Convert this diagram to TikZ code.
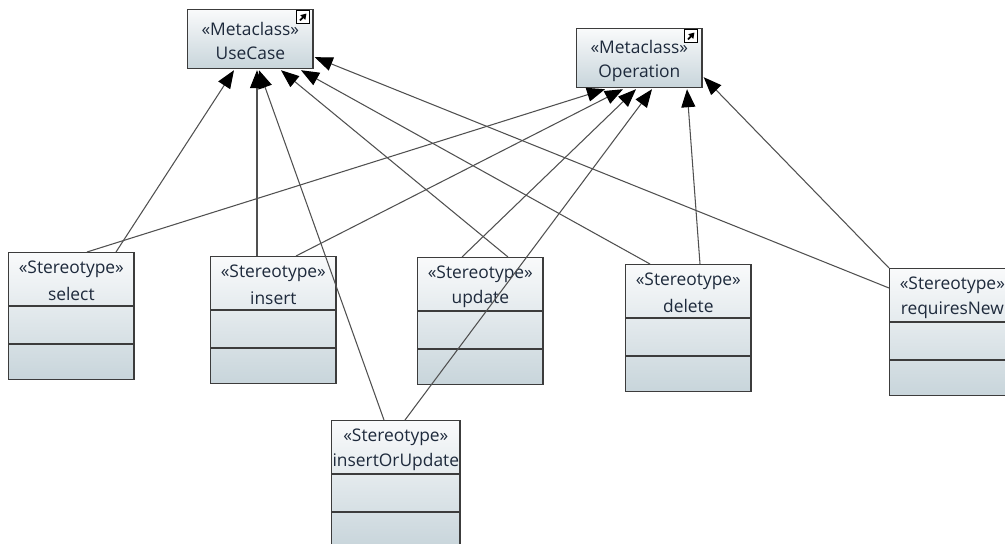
\documentclass[tikz,border=0pt]{standalone}
\usepackage{fontspec}
\setmainfont{Open Sans}
\usetikzlibrary{positioning,arrows.meta,calc}

\definecolor{boxtop}{HTML}{F9FAFB}
\definecolor{boxbottom}{HTML}{C8D5DB}
\definecolor{boxline}{HTML}{3C3C3C}
\definecolor{linkline}{HTML}{505050}
\definecolor{labeltext}{HTML}{1E2A3C}

\tikzset{
  classbox/.style={draw=boxline,line width=0.7pt,rectangle,anchor=north west,inner sep=0pt,
    top color=boxtop,bottom color=boxbottom,minimum height=#1},
  classbox/.default=2.54cm,
  boxlabel/.style={text=labeltext,inner sep=0pt,anchor=center},
  divider/.style={draw=boxline,line width=0.6pt},
  linkicon/.style={draw=black,fill=white,line width=0.5pt,rectangle,inner sep=0pt,minimum size=0.26cm},
  extends/.style={draw=linkline,line width=0.6pt,-{Triangle[length=0.36cm,width=0.28cm,color=black]}}
}

\begin{document}
\begin{tikzpicture}[x=0.02cm,y=-0.02cm,font=\fontsize{9.9}{12}\selectfont]
  \clip (0,0) rectangle (1005,544);
  \fill[white] (0,0) rectangle (1005,544);

  % metaclasses
  \node[classbox=1.18cm,minimum width=2.51cm] (useCase) at (187,9) {};
  \node[classbox=1.18cm,minimum width=2.51cm] (operation) at (576,28) {};
  \node[boxlabel] (useCaseKind) at ($(useCase.north)+(0,20)$) {«Metaclass»};
  \node[boxlabel] (useCaseName) at ($(useCase.north)+(0,44)$) {UseCase};
  \node[boxlabel] (operationKind) at ($(operation.north)+(0,19)$) {«Metaclass»};
  \node[boxlabel] (operationName) at ($(operation.north)+(0,45.5)$) {Operation};

  % link icons
  \node[linkicon] (useCaseIcon) at (303,17) {};
  \node[linkicon] (operationIcon) at (691,36) {};
  \foreach \icon in {useCaseIcon,operationIcon}
    \draw[line width=1pt,-{Triangle[length=0.11cm,width=0.13cm]}] ($(\icon)+(-3,3.5)$) -- ($(\icon)+(3.5,-3.5)$);

  % stereotypes
  \foreach \name/\x/\y/\wide/\text in {select/8/252/2.51cm/select,
      insert/210/256/2.51cm/insert,
      update/417/257/2.51cm/update,
      delete/625/264/2.51cm/delete,
      requiresNew/889/268/2.51cm/requiresNew,
      insertOrUpdate/331/420/2.57cm/insertOrUpdate} {
    \node[classbox,minimum width=\wide] (\name) at (\x,\y) {};
    \node[boxlabel] (\name Kind) at ($(\name.north)+(0,17.5)$) {«Stereotype»};
    \node[boxlabel] (\name Name) at ($(\name.north)+(0,42)$) {\text};
    \draw[divider] ($(\name.north west)+(0,54)$) -- ($(\name.north east)+(0,54)$);
    \draw[divider] ($(\name.north west)+(0,92)$) -- ($(\name.north east)+(0,92)$);
  }

  % links to UseCase
  \draw[extends] ($(select.north west)+(108,0)$) -- ($(useCase.south west)+(47,1)$);
  \draw[extends] ($(insert.north west)+(47,0)$) -- ($(useCase.south west)+(70,1)$);
  \draw[extends] ($(insertOrUpdate.north west)+(53,0)$) -- ($(useCase.south west)+(72,1)$);
  \draw[extends] ($(update.north west)+(91,0)$) -- ($(useCase.south west)+(94,1)$);
  \draw[extends] ($(delete.north west)+(25,0)$) -- ($(useCase.south west)+(114,1)$);
  \draw[extends] ($(requiresNew.north west)+(0,20)$) -- ($(useCase.south east)+(1,-12)$);

  % links to Operation
  \draw[extends] ($(select.north west)+(79,0)$) -- ($(operation.south west)+(29,1)$);
  \draw[extends] ($(insert.north west)+(86,0)$) -- ($(operation.south west)+(47,1)$);
  \draw[extends] ($(update.north west)+(45,0)$) -- ($(operation.south west)+(60,1)$);
  \draw[extends] ($(insertOrUpdate.north west)+(74,0)$) -- ($(operation.south west)+(76,1)$);
  \draw[extends] ($(delete.north west)+(75,0)$) -- ($(operation.south west)+(111,1)$);
  \draw[extends] (requiresNew.north west) -- ($(operation.south east)+(1,-11)$);
\end{tikzpicture}
\end{document}
